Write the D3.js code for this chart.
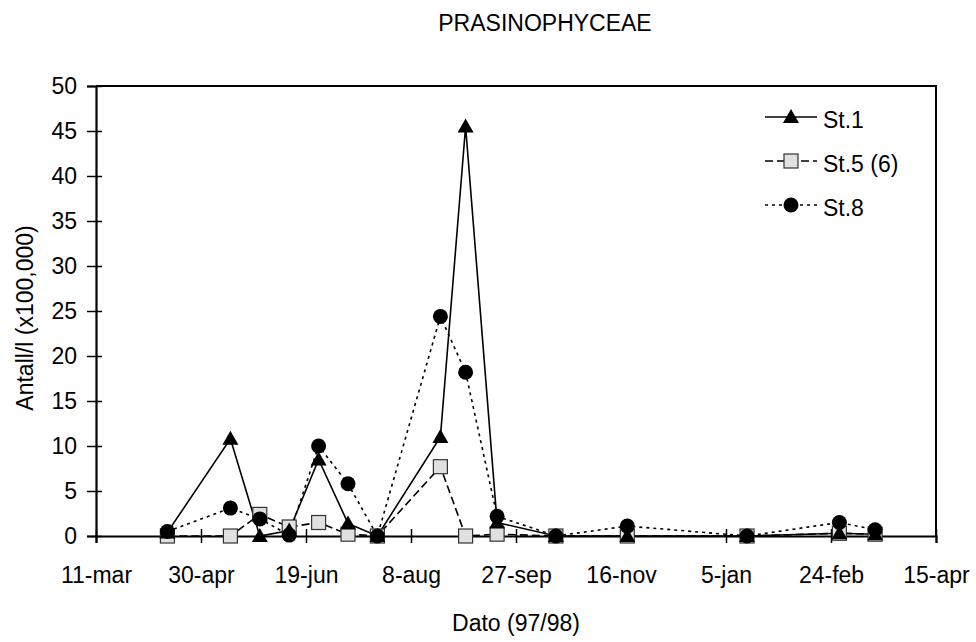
<!DOCTYPE html>
<html>
<head>
<meta charset="utf-8">
<script src="https://cdn.jsdelivr.net/npm/d3@7"></script>
<style>
  body { margin: 0; background: #fff; }
  text { font-family: "Liberation Sans", Arial, sans-serif; fill: #000; }
</style>
</head>
<body>
<svg id="chart" width="976" height="642"></svg>
<script>
// sampling dates (97/98) and counts per station, in 100,000 cells per litre
var sampleDates = ["1997-04-14", "1997-05-14", "1997-05-28", "1997-06-11", "1997-06-25",
  "1997-07-09", "1997-07-23", "1997-08-22", "1997-09-03", "1997-09-18",
  "1997-10-16", "1997-11-19", "1998-01-15", "1998-02-28", "1998-03-17"];

var st1 = [0.4, 10.8, 0, 0.6, 8.5, 1.4, 0, 11, 45.5, 1.5, 0, 0, 0, 0.3, 0.2];
var st5 = [0, 0, 2.4, 1.0, 1.5, 0.2, 0, 7.7, 0, 0.2, 0, 0, 0, 0.3, 0.2];
var st8 = [0.5, 3.1, 1.9, 0.1, 10, 5.8, 0, 24.4, 18.2, 2.2, 0, 1.1, 0, 1.5, 0.7];

var seriesNames = ["St.1", "St.5 (6)", "St.8"];

var xTickDates = ["1997-03-11", "1997-04-30", "1997-06-19", "1997-08-08", "1997-09-27",
  "1997-11-16", "1998-01-05", "1998-02-24", "1998-04-15"];
var yTicks = [0, 5, 10, 15, 20, 25, 30, 35, 40, 45, 50];

var parse = d3.utcParse("%Y-%m-%d");
var fmt = d3.utcFormat("%-d-%b");

var svg = d3.select("#chart"),
  margin = {top: 86, right: 40, bottom: 106, left: 96},
  width = +svg.attr("width") - margin.left - margin.right,
  height = +svg.attr("height") - margin.top - margin.bottom;

var x = d3.scaleUtc()
  .domain([parse(xTickDates[0]), parse(xTickDates[xTickDates.length - 1])])
  .range([0, width]);

var y = d3.scaleLinear()
  .domain([0, 50])
  .range([height, 0]);

var g = svg.append("g")
  .attr("transform", "translate(" + margin.left + "," + margin.top + ")");

// frame (top + right)
g.append("path")
  .attr("d", "M0,0H" + width + "V" + height)
  .attr("fill", "none")
  .attr("stroke", "#000")
  .attr("stroke-width", 2);

// x axis
var xAxis = g.append("g")
  .attr("transform", "translate(0," + height + ")")
  .call(d3.axisBottom(x)
    .tickValues(xTickDates.map(parse))
    .tickSize(7)
    .tickPadding(24)
    .tickFormat(function (d) { return fmt(d).toLowerCase(); }));

xAxis.selectAll(".tick line").attr("y1", -7).attr("stroke-width", 1.5);
xAxis.select(".domain").attr("stroke-width", 2.2);
xAxis.selectAll("text").attr("font-size", 23);
xAxis.attr("font-family", null);

// y axis
var yAxis = g.append("g")
  .call(d3.axisLeft(y)
    .tickValues(yTicks)
    .tickSize(9)
    .tickPadding(10));

yAxis.selectAll(".tick line").attr("x1", 6).attr("stroke-width", 1.5);
yAxis.select(".domain").attr("stroke-width", 2.2);
yAxis.selectAll("text").attr("font-size", 23);
yAxis.attr("font-family", null);

// lines
var series = [
  {name: seriesNames[0], values: st1, dash: null, marker: "triangle", order: 1},
  {name: seriesNames[1], values: st5, dash: "8,4", marker: "square", order: 0},
  {name: seriesNames[2], values: st8, dash: "3,4", marker: "circle", order: 2}
];

var line = d3.line()
  .x(function (d) { return x(d.date); })
  .y(function (d) { return y(d.value); });

series.forEach(function (s) {
  s.points = sampleDates.map(function (d, i) {
    return {date: parse(d), value: s.values[i]};
  });
});

g.append("g")
  .selectAll("path")
  .data(series)
  .enter().append("path")
  .attr("d", function (d) { return line(d.points); })
  .attr("fill", "none")
  .attr("stroke", "#000")
  .attr("stroke-width", 1.6)
  .attr("stroke-dasharray", function (d) { return d.dash; });

function drawMarker(sel, type) {
  if (type === "triangle") {
    sel.append("path")
      .attr("d", "M0,-8L8,6L-8,6Z")
      .attr("fill", "#000");
  } else if (type === "square") {
    sel.append("rect")
      .attr("x", -7).attr("y", -7)
      .attr("width", 14).attr("height", 14)
      .attr("fill", "#e0e0e0")
      .attr("stroke", "#333")
      .attr("stroke-width", 1.2);
  } else {
    sel.append("circle")
      .attr("r", 7.5)
      .attr("fill", "#000");
  }
}

// markers: squares underneath, circles on top
series.slice().sort(function (a, b) { return a.order - b.order; }).forEach(function (s) {
  g.append("g")
    .selectAll("g")
    .data(s.points)
    .enter().append("g")
    .attr("transform", function (d) {
      return "translate(" + x(d.date) + "," + y(d.value) + ")";
    })
    .each(function () { drawMarker(d3.select(this), s.marker); });
});

// legend
var legend = svg.append("g")
  .attr("transform", "translate(765,117)");

var item = legend.selectAll("g")
  .data(series)
  .enter().append("g")
  .attr("transform", function (d, i) { return "translate(0," + (i * 44) + ")"; });

item.append("line")
  .attr("x1", 0).attr("x2", 52)
  .attr("stroke", "#000")
  .attr("stroke-width", 1.6)
  .attr("stroke-dasharray", function (d) { return d.dash; });

item.append("g")
  .attr("transform", "translate(26,0)")
  .each(function (d) { drawMarker(d3.select(this), d.marker); });

item.append("text")
  .attr("x", 58)
  .attr("y", 11)
  .attr("font-size", 23)
  .text(function (d) { return d.name; });

// titles
svg.append("text")
  .attr("x", 545)
  .attr("y", 31)
  .attr("text-anchor", "middle")
  .attr("font-size", 23)
  .text("PRASINOPHYCEAE");

svg.append("text")
  .attr("x", 516)
  .attr("y", 631)
  .attr("text-anchor", "middle")
  .attr("font-size", 23)
  .text("Dato (97/98)");

svg.append("text")
  .attr("transform", "translate(33,318) rotate(-90)")
  .attr("text-anchor", "middle")
  .attr("font-size", 23)
  .text("Antall/l (x100,000)");
</script>
</body>
</html>
